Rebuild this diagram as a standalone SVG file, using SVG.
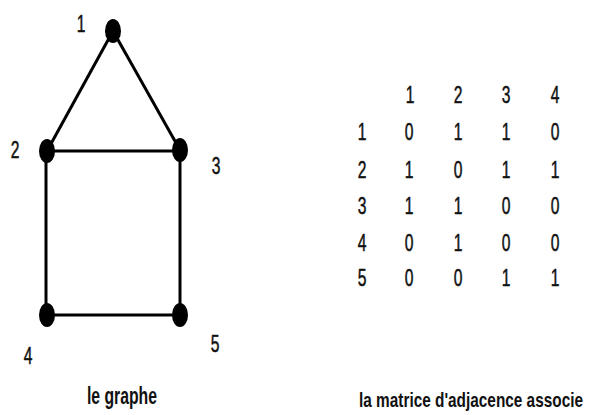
<svg xmlns="http://www.w3.org/2000/svg" width="589" height="415" viewBox="0 0 589 415">
<style>
text{font-family:"Liberation Sans","DejaVu Sans",sans-serif;fill:#111;}
.d{font-size:23px;text-anchor:middle;stroke:#111;stroke-width:0.5;}
.cap{font-weight:bold;}
.e{stroke:#000;stroke-width:3;fill:none;}
.n{fill:#000;}
</style>
<rect width="589" height="415" fill="#fff"/>
<g id="edges">
<line class="e" x1="113" y1="31" x2="47" y2="151"/>
<line class="e" x1="113" y1="31" x2="180" y2="150"/>
<line class="e" x1="47" y1="151" x2="180" y2="151" stroke-width="3.5"/>
<line class="e" x1="46" y1="151" x2="46" y2="315" stroke-width="2.5"/>
<line class="e" x1="180" y1="150" x2="180" y2="315" stroke-width="2.5"/>
<line class="e" x1="47" y1="315" x2="180" y2="315" stroke-width="3.5"/>
</g>
<g id="node1"><ellipse class="n" cx="113" cy="31" rx="8" ry="12"/><text class="d" transform="translate(81,32) scale(0.68,1)">1</text></g>
<g id="node2"><ellipse class="n" cx="47" cy="151" rx="8" ry="12"/><text class="d" transform="translate(15,158) scale(0.68,1)">2</text></g>
<g id="node3"><ellipse class="n" cx="180" cy="150" rx="8" ry="12"/><text class="d" transform="translate(216,174) scale(0.68,1)">3</text></g>
<g id="node4"><ellipse class="n" cx="47" cy="315" rx="8" ry="12"/><text class="d" transform="translate(28,364) scale(0.68,1)">4</text></g>
<g id="node5"><ellipse class="n" cx="180" cy="315" rx="8" ry="12"/><text class="d" transform="translate(215,352) scale(0.68,1)">5</text></g>
<text class="cap" x="122" y="404" text-anchor="middle" textLength="70" lengthAdjust="spacingAndGlyphs" font-size="23">le graphe</text>
<g id="matrix">
<text class="d" transform="translate(410,103) scale(0.68,1)">1</text>
<text class="d" transform="translate(458,103) scale(0.68,1)">2</text>
<text class="d" transform="translate(506,103) scale(0.68,1)">3</text>
<text class="d" transform="translate(555,103) scale(0.68,1)">4</text>
<text class="d" transform="translate(362,140) scale(0.68,1)">1</text>
<text class="d" transform="translate(409,140) scale(0.68,1)">0</text>
<text class="d" transform="translate(458,140) scale(0.68,1)">1</text>
<text class="d" transform="translate(506,140) scale(0.68,1)">1</text>
<text class="d" transform="translate(555,140) scale(0.68,1)">0</text>
<text class="d" transform="translate(362,178) scale(0.68,1)">2</text>
<text class="d" transform="translate(409,178) scale(0.68,1)">1</text>
<text class="d" transform="translate(458,178) scale(0.68,1)">0</text>
<text class="d" transform="translate(506,178) scale(0.68,1)">1</text>
<text class="d" transform="translate(555,178) scale(0.68,1)">1</text>
<text class="d" transform="translate(362,214) scale(0.68,1)">3</text>
<text class="d" transform="translate(409,214) scale(0.68,1)">1</text>
<text class="d" transform="translate(458,214) scale(0.68,1)">1</text>
<text class="d" transform="translate(506,214) scale(0.68,1)">0</text>
<text class="d" transform="translate(555,214) scale(0.68,1)">0</text>
<text class="d" transform="translate(362,251) scale(0.68,1)">4</text>
<text class="d" transform="translate(409,251) scale(0.68,1)">0</text>
<text class="d" transform="translate(458,251) scale(0.68,1)">1</text>
<text class="d" transform="translate(506,251) scale(0.68,1)">0</text>
<text class="d" transform="translate(555,251) scale(0.68,1)">0</text>
<text class="d" transform="translate(362,286) scale(0.68,1)">5</text>
<text class="d" transform="translate(409,286) scale(0.68,1)">0</text>
<text class="d" transform="translate(458,286) scale(0.68,1)">0</text>
<text class="d" transform="translate(506,286) scale(0.68,1)">1</text>
<text class="d" transform="translate(555,286) scale(0.68,1)">1</text>
</g>
<text class="cap" transform="translate(359,407) scale(1,1.4)" font-size="15" textLength="224" lengthAdjust="spacingAndGlyphs">la matrice d'adjacence associe</text>
</svg>
